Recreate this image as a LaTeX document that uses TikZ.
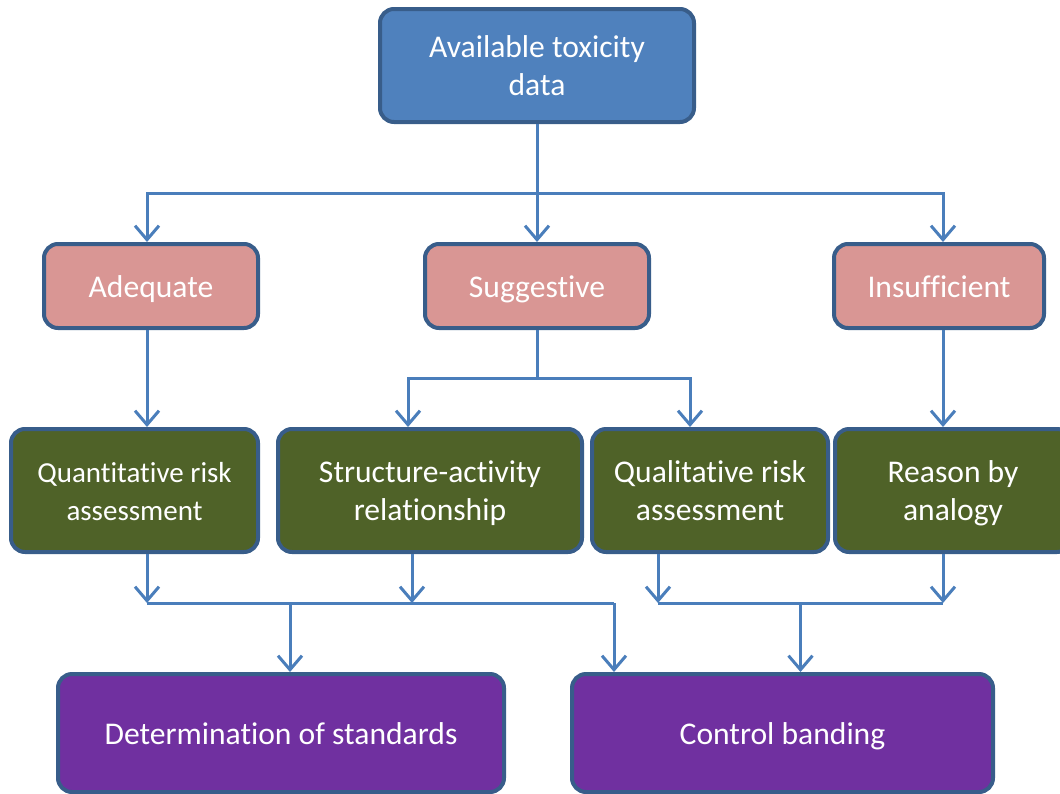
\documentclass[tikz,border=0pt]{standalone}
\usepackage{fontspec}
\setmainfont{Carlito}[Ligatures={NoCommon}]
\usetikzlibrary{arrows.meta}
\definecolor{bordc}{HTML}{385D8A}
\definecolor{lnc}{HTML}{4A7EBB}
\definecolor{bluef}{HTML}{4F81BD}
\definecolor{pinkf}{HTML}{D99694}
\definecolor{greenf}{HTML}{4F6228}
\definecolor{purplef}{HTML}{7030A0}
\newcommand\mystrut{\rule[-4.1pt]{0pt}{19.3pt}}
\tikzset{
  box/.style={draw=bordc, line width=2pt, rounded corners=7pt, text=white, align=center, inner sep=0pt},
  bigtext/.style={font=\fontsize{15.8}{19.3}\selectfont},
  smalltext/.style={font=\fontsize{14.5}{19.3}\selectfont},
  conn/.style={draw=lnc, line width=1.5pt, -{Straight Barb[length=7pt,width=12pt,line width=1.5pt]}},
  plain/.style={draw=lnc, line width=1.5pt}
}
\begin{document}
\begin{tikzpicture}[x=0.5pt,y=-0.5pt]
\useasboundingbox (0,0) rectangle (1060,793);
\clip (0,0) rectangle (1060,793);
% top
\node[box, bigtext, fill=bluef, minimum width=157pt, minimum height=56.5pt] (top) at (537,65.5) {\mystrut Available toxicity\\\mystrut data};
% second row
\node[box, bigtext, fill=pinkf, minimum width=107pt, minimum height=42pt] (adq) at (151,286) {\mystrut Adequate};
\node[box, bigtext, fill=pinkf, minimum width=112pt, minimum height=42pt] (sug) at (537,286) {\mystrut Suggestive};
\node[box, bigtext, fill=pinkf, minimum width=105pt, minimum height=42pt] (ins) at (939,286) {\mystrut Insufficient};
% third row
\node[box, smalltext, fill=greenf, minimum width=123.5pt, minimum height=61.5pt] (g1) at (134.5,490.5) {\mystrut Quantitative risk\\\mystrut assessment};
\node[box, bigtext, fill=greenf, minimum width=152pt, minimum height=61.5pt] (g2) at (430,490.5) {\mystrut Structure-activity\\\mystrut relationship};
\node[box, bigtext, fill=greenf, minimum width=118pt, minimum height=61.5pt] (g3) at (710,490.5) {\mystrut Qualitative risk\\\mystrut assessment};
\node[box, bigtext, fill=greenf, minimum width=118pt, minimum height=61.5pt] (g4) at (953,490.5) {\mystrut Reason by\\\mystrut analogy};
% bottom row
\node[box, bigtext, fill=purplef, minimum width=223pt, minimum height=59pt] (b1) at (281,733) {\mystrut Determination of standards};
\node[box, bigtext, fill=purplef, minimum width=210.5pt, minimum height=59pt] (b2) at (782.5,733) {\mystrut Control banding};
% junction coordinates
\coordinate (j1) at (537,193);
\coordinate (j2) at (537,378);
\coordinate (j3l) at (147,603);
\coordinate (j3r) at (614,603);
\coordinate (j4l) at (658,603);
\coordinate (j4r) at (943,603);
% connectors top -> second row
\draw[conn] (top.south) -- (sug.north);
\draw[conn] (j1) -| ([xshift=-2pt]adq.north);
\draw[conn] (j1) -| ([xshift=2pt]ins.north);
% second -> third
\draw[conn] ([xshift=-2pt]adq.south) -- ([xshift=6.25pt]g1.north);
\draw[plain] (sug.south) -- (j2);
\draw[conn] (j2) -| ([xshift=-11pt]g2.north);
\draw[conn] (j2) -| ([xshift=-10pt]g3.north);
\draw[conn] ([xshift=2pt]ins.south) -- ([xshift=-5pt]g4.north);
% third -> merge lines
\draw[conn] ([xshift=6.25pt]g1.south) -- (j3l);
\draw[conn] ([xshift=-9pt]g2.south) -- ([xshift=-9pt]g2.south |- j3l);
\draw[plain] (j3l) -- (j3r);
\draw[conn] ([xshift=-26pt]g3.south) -- (j4l);
\draw[conn] ([xshift=-5pt]g4.south) -- (j4r);
\draw[plain] (j4l) -- (j4r);
% merge -> bottom
\draw[conn] ([xshift=4.5pt]j3l -| b1.north) -- ([xshift=4.5pt]b1.north);
\draw[conn] (j3r) -- (j3r |- b2.north);
\draw[conn] ([xshift=9pt]j4l -| b2.north) -- ([xshift=9pt]b2.north);
\end{tikzpicture}
\end{document}
